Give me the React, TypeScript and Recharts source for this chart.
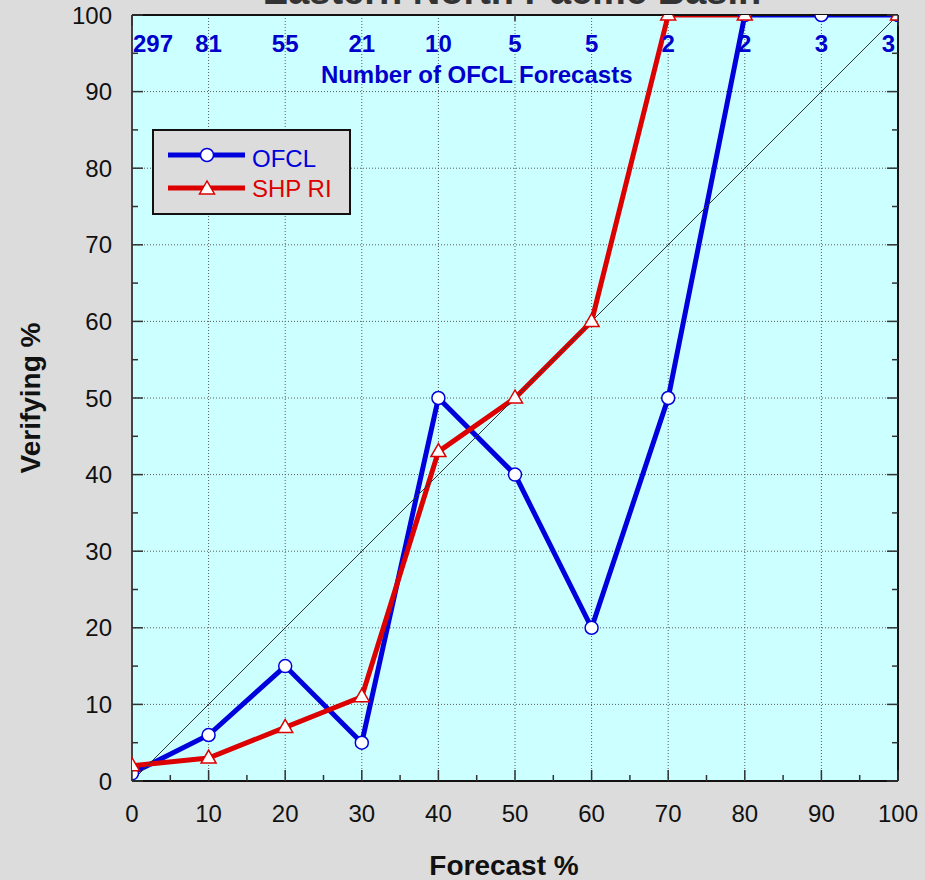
import React from 'react';
import {
  CartesianGrid,
  ComposedChart,
  Label,
  Legend,
  Line,
  ReferenceDot,
  ReferenceLine,
  Scatter,
  XAxis,
  YAxis
} from 'recharts';

const forecastPct = [0, 10, 20, 30, 40, 50, 60, 70, 80, 90, 100];
const ofclVerifying = [1, 6, 15, 5, 50, 40, 20, 50, 100, 100, 100];
const shpRiVerifying: (number | null)[] = [2, 3, 7, 11, 43, 50, 60, 100, 100, null, 100];
const ofclCounts = [297, 81, 55, 21, 10, 5, 5, 2, 2, 3, 3];
const seriesNames = ['OFCL', 'SHP RI'];
const axisTicks = [0, 5, 10, 15, 20, 25, 30, 35, 40, 45, 50, 55, 60, 65, 70, 75, 80, 85, 90, 95, 100];
const gridTicks = [0, 10, 20, 30, 40, 50, 60, 70, 80, 90, 100];
const perfectReliability = [0, 100];

const TITLE = 'Eastern North Pacific Basin';
const COUNT_CAPTION = 'Number of OFCL Forecasts';
const COUNT_ROW = 95.2;
const CAPTION_POS = { x: 45, y: 91.1 };

const BLUE = '#0000dd';
const RED = '#dd0000';
const COUNT_BLUE = '#0000cc';
const BG = '#dcdcdc';
const PLOT_BG = '#ccffff';
const FONT = 'Arial, "Liberation Sans", sans-serif';

const rows = forecastPct.map((x, i) => ({ x, ofcl: ofclVerifying[i], shp: shpRiVerifying[i] }));
const countRows = forecastPct.map((x, i) => ({ x, y: COUNT_ROW, n: ofclCounts[i] }));

const tickStroke = { stroke: '#333', strokeWidth: 1.5 } as const;
const tickLen = (v: number) => (v % 10 === 0 ? 11 : 6);

function BottomTick(props: any) {
  const { x, y, payload } = props;
  const v = payload.value;
  return (
    <g>
      <line x1={x} x2={x} y1={y} y2={y - tickLen(v)} {...tickStroke} />
      {v % 10 === 0 && (
        <text x={x} y={y + 41} textAnchor="middle" fontSize={24} fill="#111">{v}</text>
      )}
    </g>
  );
}

function TopTick(props: any) {
  const { x, y, payload } = props;
  return <line x1={x} x2={x} y1={y} y2={y + tickLen(payload.value)} {...tickStroke} />;
}

function LeftTick(props: any) {
  const { x, y, payload } = props;
  const v = payload.value;
  return (
    <g>
      <line x1={x} x2={x + tickLen(v)} y1={y} y2={y} {...tickStroke} />
      {v % 10 === 0 && (
        <text x={x - 20} y={y + 8.5} textAnchor="end" fontSize={24} fill="#111">{v}</text>
      )}
    </g>
  );
}

function RightTick(props: any) {
  const { x, y, payload } = props;
  return <line x1={x} x2={x - tickLen(payload.value)} y1={y} y2={y} {...tickStroke} />;
}

function CircleDot(props: any) {
  const { cx, cy, index } = props;
  if (cx == null || cy == null) return <g key={index} />;
  return <circle key={index} cx={cx} cy={cy} r={6.5} fill="#fff" stroke={BLUE} strokeWidth={1.5} />;
}

function TriangleDot(props: any) {
  const { cx, cy, index } = props;
  if (cx == null || cy == null) return <g key={index} />;
  return (
    <polygon
      key={index}
      points={`${cx},${cy - 8} ${cx - 7.5},${cy + 5} ${cx + 7.5},${cy + 5}`}
      fill="#fff"
      stroke={RED}
      strokeWidth={1.5}
    />
  );
}

function CountLabel(props: any) {
  const { cx, cy, payload } = props;
  const first = payload.x === forecastPct[0];
  const last = payload.x === forecastPct[forecastPct.length - 1];
  const anchor = first ? 'start' : last ? 'end' : 'middle';
  return (
    <text x={cx} y={cy} dx={first ? 1 : last ? -3 : 0} textAnchor={anchor} fontSize={24} fontWeight="bold" fill={COUNT_BLUE}>
      {payload.n}
    </text>
  );
}

function CaptionText(props: any) {
  return (
    <text x={props.cx} y={props.cy} textAnchor="middle" fontSize={24} fontWeight="bold" fill={COUNT_BLUE}>
      {COUNT_CAPTION}
    </text>
  );
}

function LegendBox() {
  return (
    <svg width={199} height={86} style={{ display: 'block', fontFamily: FONT }}>
      <rect x={1} y={1} width={197} height={84} fill={BG} stroke="#111" strokeWidth={2} />
      <line x1={16} x2={93} y1={26} y2={26} stroke={BLUE} strokeWidth={5} />
      <CircleDot cx={55} cy={26} index={0} />
      <text x={100} y={38} fontSize={24} fill={BLUE}>{seriesNames[0]}</text>
      <line x1={16} x2={93} y1={59} y2={59} stroke={RED} strokeWidth={5} />
      <TriangleDot cx={55} cy={60} index={1} />
      <text x={100} y={68} fontSize={24} fill={RED}>{seriesNames[1]}</text>
    </svg>
  );
}

const axisLine = { stroke: '#111', strokeWidth: 2 } as const;

export default function App(): React.ReactElement {
  return (
    <div style={{ position: 'absolute', left: 0, top: 0, width: 925, height: 880, background: BG, fontFamily: FONT }}>
      <ComposedChart
        width={925}
        height={880}
        data={rows}
        margin={{ top: 14, right: 26, bottom: 39, left: 10 }}
        style={{ fontFamily: FONT }}
      >
        <CartesianGrid
          fill={PLOT_BG}
          stroke="#5a5a5a"
          strokeDasharray="1 2"
          horizontalValues={gridTicks}
          verticalValues={gridTicks}
        />

        <XAxis
          dataKey="x"
          type="number"
          domain={[0, 100]}
          ticks={axisTicks}
          interval={0}
          allowDataOverflow
          height={60}
          tickSize={0}
          tickMargin={0}
          tickLine={false}
          axisLine={axisLine}
          tick={<BottomTick />}
        >
          <Label value="Forecast %" position="bottom" offset={14} dx={-11} fontSize={28} fontWeight="bold" fill="#111" />
        </XAxis>
        <XAxis
          xAxisId="top"
          orientation="top"
          type="number"
          domain={[0, 100]}
          ticks={axisTicks}
          interval={0}
          allowDataOverflow
          height={1}
          tickSize={0}
          tickMargin={0}
          tickLine={false}
          axisLine={axisLine}
          tick={<TopTick />}
        >
          <Label value={TITLE} position="top" offset={10} dx={-3} fontSize={38} fontWeight="bold" fill="#333" />
        </XAxis>
        <YAxis
          type="number"
          domain={[0, 100]}
          ticks={axisTicks}
          interval={0}
          allowDataOverflow
          width={122}
          tickSize={0}
          tickMargin={0}
          tickLine={false}
          axisLine={{ stroke: '#444', strokeWidth: 2 }}
          tick={<LeftTick />}
        >
          <Label
            value="Verifying %"
            angle={-90}
            position="insideLeft"
            offset={20}
            fontSize={28}
            fontWeight="bold"
            fill="#111"
            style={{ textAnchor: 'middle' }}
          />
        </YAxis>
        <YAxis
          yAxisId="right"
          orientation="right"
          type="number"
          domain={[0, 100]}
          ticks={axisTicks}
          interval={0}
          allowDataOverflow
          width={1}
          tickSize={0}
          tickMargin={0}
          tickLine={false}
          axisLine={axisLine}
          tick={<RightTick />}
        />

        <Line
          dataKey="ofcl"
          name={seriesNames[0]}
          stroke={BLUE}
          strokeWidth={5}
          dot={<CircleDot />}
          activeDot={false}
          isAnimationActive={false}
        />
        <Line
          dataKey="shp"
          name={seriesNames[1]}
          stroke={RED}
          strokeWidth={5}
          dot={<TriangleDot />}
          activeDot={false}
          connectNulls={false}
          isAnimationActive={false}
        />
        <ReferenceLine
          segment={[
            { x: perfectReliability[0], y: perfectReliability[0] },
            { x: perfectReliability[1], y: perfectReliability[1] }
          ]}
          stroke="#333"
          strokeWidth={1}
        />
        <Scatter data={countRows} dataKey="y" shape={<CountLabel />} legendType="none" isAnimationActive={false} />
        <ReferenceDot x={CAPTION_POS.x} y={CAPTION_POS.y} shape={<CaptionText />} />

        <Legend
          layout="vertical"
          align="center"
          verticalAlign="middle"
          content={<LegendBox />}
          wrapperStyle={{ top: 129, left: 152, width: 199, height: 86 }}
        />
      </ComposedChart>
    </div>
  );
}
